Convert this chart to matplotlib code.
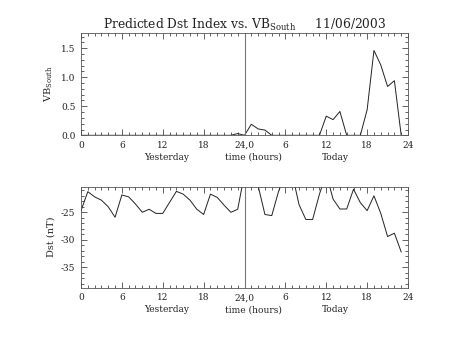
"""Predicted Dst index vs. VB_South, yesterday + today (hourly), 11/06/2003."""

import matplotlib
matplotlib.use("Agg")
import matplotlib.pyplot as plt  # noqa: E402
from matplotlib.ticker import FixedLocator, FixedFormatter, MultipleLocator  # noqa: E402

# hours since start of yesterday (0..47)
hours = list(range(48))

vb_south = [0.0] * 23 + [0.03, 0.0, 0.19, 0.11, 0.09] + [0.0] * 8 + \
    [0.33, 0.27, 0.41, 0.0, 0.0, 0.0, 0.44, 1.46, 1.21, 0.84, 0.94, 0.0]

dst = [-24.7, -21.25, -22.2, -22.8, -24.0, -25.9, -21.85, -22.2, -23.5, -25.0,
       -24.45, -25.2, -25.2, -23.2, -21.2, -21.7, -22.8, -24.45, -25.4, -21.7,
       -22.3, -23.7, -25.0, -24.45, -18.0, -17.0, -20.2, -25.4, -25.6, -21.2,
       -18.0, -18.0, -23.6, -26.3, -26.3, -21.7, -18.0, -22.6, -24.4, -24.4,
       -20.8, -23.25, -24.7, -22.0, -25.2, -29.4, -28.8, -32.2]

tick_pos = [0, 6, 12, 18, 24, 30, 36, 42, 48]
tick_labels = ["0", "6", "12", "18", "24,0", "6", "12", "18", "24"]
day_labels = [(12.5, "Yesterday"), (25.3, "time (hours)"), (37.3, "Today")]

FONT = "DejaVu Serif"
INK = "#222222"

plt.rcParams["font.family"] = FONT
plt.rcParams["mathtext.fontset"] = "dejavuserif"
plt.rcParams["axes.unicode_minus"] = False  # IDL-style hyphen minus


def style_axis(ax, ylim, ymajor, yminor, row2_y):
    ax.set_xlim(0, 48)
    ax.set_ylim(*ylim)
    ax.xaxis.set_major_locator(FixedLocator(tick_pos))
    ax.xaxis.set_major_formatter(FixedFormatter(tick_labels))
    ax.xaxis.set_minor_locator(MultipleLocator(1))
    ax.yaxis.set_major_locator(MultipleLocator(ymajor))
    ax.yaxis.set_minor_locator(MultipleLocator(yminor))
    ax.tick_params(which="both", direction="in", top=True, right=True,
                   colors=INK, labelsize=6.5, width=0.5)
    ax.tick_params(which="major", length=4, pad=4)
    ax.tick_params(which="minor", length=2)
    for sp in ax.spines.values():
        sp.set_linewidth(0.6)
        sp.set_color("#555555")
    ax.axvline(24, color="#777777", lw=0.8)
    for x, txt in day_labels:
        ax.text(x, row2_y, txt, transform=ax.get_xaxis_transform(),
                ha="center", va="center", fontsize=6.5, color=INK)


fig = plt.figure(figsize=(4.53, 3.40), dpi=100)

ax1 = fig.add_axes([0.1788, 0.602, 0.7219, 0.3009])
ax1.plot(hours, vb_south, color=INK, lw=0.7)
style_axis(ax1, (0, 1.76), 0.5, 0.1, -0.215)
ax1.yaxis.set_major_formatter(matplotlib.ticker.FormatStrFormatter("%.1f"))
ax1.set_ylabel(r"VB$_{\mathrm{South}}$", fontsize=7, color=INK, labelpad=4)
ax1.set_title(r"Predicted Dst Index vs. VB$_{\mathrm{South}}$     11/06/2003",
              fontsize=8.8, color=INK, pad=3)

ax2 = fig.add_axes([0.1788, 0.1538, 0.7219, 0.2971])
ax2.plot(hours, dst, color=INK, lw=0.7)
style_axis(ax2, (-38.7, -20.35), 5, 1, -0.22)
ax2.set_ylabel("Dst (nT)", fontsize=7, color=INK, labelpad=4)

fig.savefig("out.png", dpi=100)
